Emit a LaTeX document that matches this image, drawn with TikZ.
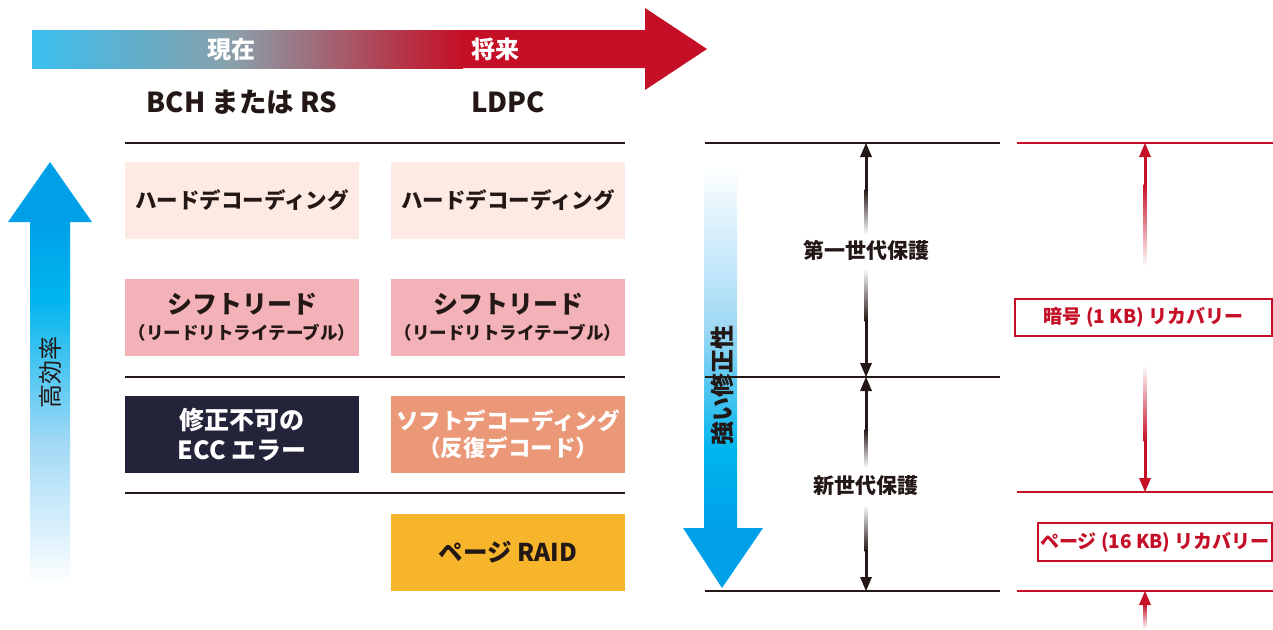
\documentclass[tikz,border=0pt]{standalone}
\usepackage{fontspec}
\setmainfont{Noto Sans CJK JP}
\definecolor{txt}{HTML}{231815}
\definecolor{cyanA}{HTML}{3BBFEF}
\definecolor{grayB}{HTML}{8A9EA8}
\definecolor{redC}{HTML}{C50F26}
\definecolor{peach}{HTML}{FDEBE3}
\definecolor{pinkB}{HTML}{F3B1B8}
\definecolor{navy}{HTML}{23233A}
\definecolor{salmon}{HTML}{EA9878}
\definecolor{gold}{HTML}{F7B52B}
\definecolor{blueA}{HTML}{00A0E9}
\definecolor{blueB}{HTML}{00B5EE}
\definecolor{blueC}{HTML}{9ED8F5}
\tikzset{
  cell/.style={minimum width=234pt, minimum height=77pt, inner sep=0pt, align=center, text=txt, font=\bfseries\fontsize{21.5}{26}\selectfont},
  head/.style={text=txt, font=\bfseries\fontsize{27.5}{32}\selectfont},
  sep/.style={draw=txt, line width=1.5pt},
  rsep/.style={draw=redC, line width=1.5pt},
  lbl/.style={text=txt, font=\bfseries\fontsize{21}{25}\selectfont, fill=white, inner sep=2pt},
  rbox/.style={draw=redC, line width=1.5pt, fill=white, text=redC, inner sep=0pt, font=\bfseries\fontsize{19}{23}\selectfont},
}
\begin{document}
\begin{tikzpicture}[x=1pt,y=-1pt]
\useasboundingbox (0,0) rectangle (1273,629);
% top timeline arrow
\shade[left color=cyanA, right color=grayB] (32,30) rectangle (236,68);
\shade[left color=grayB, right color=redC] (235,30) rectangle (463,68);
\fill[redC] (462,30) -- (645,30) -- (645,8) -- (707,49) -- (645,90) -- (645,68) -- (462,68) -- cycle;
\node[text=white, font=\bfseries\fontsize{24}{27}\selectfont] (now) at (231,49) {現在};
\node[text=white, font=\bfseries\fontsize{24}{27}\selectfont] (future) at (495,49) {将来};
\node[head] (bch) at (242,102) {BCH または RS};
\node[head] (ldpc) at (508,102) {LDPC};
% separators
\draw[sep] (125,143) -- (625,143);
\draw[sep] (125,377) -- (625,377);
\draw[sep] (125,493) -- (625,493);
% cells
\node[cell, fill=peach] (hd1) at (242,200.5) {ハードデコーディング};
\node[cell, fill=peach] (hd2) at (508,200.5) {ハードデコーディング};
\node[cell, fill=pinkB] (sr1) at (242,317.5) {{\fontsize{25}{29}\selectfont シフトリード}\\{\fontsize{17.5}{21}\selectfont （リードリトライテーブル）}};
\node[cell, fill=pinkB] (sr2) at (508,317.5) {{\fontsize{25}{29}\selectfont シフトリード}\\{\fontsize{17.5}{21}\selectfont （リードリトライテーブル）}};
\node[cell, fill=navy, text=white, font=\bfseries\fontsize{25}{30}\selectfont] (ecc) at (242,434.5) {修正不可の\\ECC エラー};
\node[cell, fill=salmon, text=white, font=\bfseries\fontsize{22.5}{27}\selectfont] (soft) at (508,434.5) {ソフトデコーディング\\（反復デコード）};
\node[cell, fill=gold, font=\bfseries\fontsize{24.5}{28}\selectfont] (raid) at (508,552.5) {ページ RAID};
% left efficiency arrow
\shade[top color=blueA, bottom color=blueB] (30,221) rectangle (70,300);
\shade[top color=blueB, bottom color=blueC] (30,299) rectangle (70,440);
\shade[top color=blueC, bottom color=white] (30,439) rectangle (70,585);
\fill[blueA] (50,162) -- (92,222) -- (8,222) -- cycle;
\node[rotate=90, text=txt, font=\fontsize{24}{27}\selectfont] (eff) at (50,372) {高効率};
% right correction arrow
\shade[top color=white, bottom color=blueC] (704,165) rectangle (737,330);
\shade[top color=blueC, bottom color=blueB] (704,329) rectangle (737,450);
\shade[top color=blueB, bottom color=blueA] (704,449) rectangle (737,529);
\fill[blueA] (683,528) -- (763,528) -- (722,588) -- cycle;
\node[rotate=90, text=txt, font=\bfseries\fontsize{24}{27}\selectfont] (str) at (722,385) {強い修正性};
% black levels
\draw[sep] (705,143) -- (1000,143);
\draw[sep] (705,377) -- (1000,377);
\draw[sep] (705,591) -- (1000,591);
\fill[txt] (866,143) -- (872,157) -- (860,157) -- cycle;
\fill[txt] (864.5,156) rectangle (867.5,190);
\shade[top color=txt, bottom color=white] (864.5,189) rectangle (867.5,235);
\shade[top color=white, bottom color=txt] (864.5,268) rectangle (867.5,321);
\fill[txt] (864.5,320) rectangle (867.5,364);
\fill[txt] (866,377) -- (872,363) -- (860,363) -- cycle;
\fill[txt] (866,377) -- (872,391) -- (860,391) -- cycle;
\fill[txt] (864.5,390) rectangle (867.5,430);
\shade[top color=txt, bottom color=white] (864.5,429) rectangle (867.5,468);
\shade[top color=white, bottom color=txt] (864.5,505) rectangle (867.5,551);
\fill[txt] (864.5,550) rectangle (867.5,578);
\fill[txt] (866,591) -- (872,577) -- (860,577) -- cycle;
\node[lbl] (gen1) at (866,250) {第一世代保護};
\node[lbl] (gen2) at (866,486) {新世代保護};
% red levels
\draw[rsep] (1017,143) -- (1273,143);
\draw[rsep] (1017,492) -- (1273,492);
\draw[rsep] (1017,591) -- (1273,591);
\fill[redC] (1145,143) -- (1151,157) -- (1139,157) -- cycle;
\fill[redC] (1143.5,156) rectangle (1146.5,185);
\shade[top color=redC, bottom color=white] (1143.5,184) rectangle (1146.5,266);
\shade[top color=white, bottom color=redC] (1143.5,365) rectangle (1146.5,441);
\fill[redC] (1143.5,440) rectangle (1146.5,479);
\fill[redC] (1145,492) -- (1151,478) -- (1139,478) -- cycle;
\fill[redC] (1145,591) -- (1151,605) -- (1139,605) -- cycle;
\shade[top color=redC, bottom color=white] (1143.5,604) rectangle (1146.5,629);
\node[rbox, minimum width=257pt, minimum height=37pt] (rec1) at (1143.5,317.5) {暗号 (1 KB) リカバリー};
\node[rbox, minimum width=234pt, minimum height=38pt] (rec2) at (1155,542) {ページ (16 KB) リカバリー};
\end{tikzpicture}
\end{document}
